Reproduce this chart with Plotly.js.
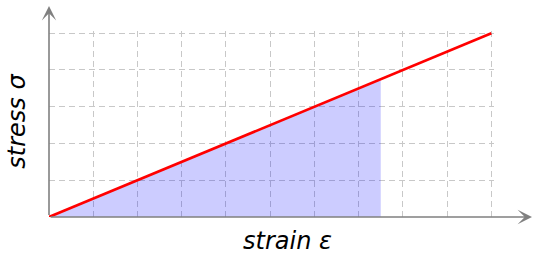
<!DOCTYPE html>
<html>
<head>
<meta charset="utf-8">
<script src="https://cdn.plot.ly/plotly-3.0.1.min.js"></script>
<style>html,body{margin:0;padding:0;background:#fff;}#chart{width:533px;height:259px;}</style>
</head>
<body>
<div id="chart"></div>
<script>
// Data
const strain = [0, 10];          // line end points (x)
const stress = [0, 5];           // line end points (y)
const areaStrain = [0, 7.5];     // shaded area x extent
const areaStress = [0, 3.75];    // line value at those x
const xLabel = 'strain ε';
const yLabel = 'stress σ';

const axisColor = '#808080';
const font = {family: 'DejaVu Sans', size: 24, color: '#000', style: 'italic'};

const traces = [
  {
    x: areaStrain, y: areaStress, type: 'scatter', mode: 'none',
    fill: 'tozeroy', fillcolor: 'rgba(0,0,255,0.2)', hoverinfo: 'skip'
  },
  {
    x: strain, y: stress, type: 'scatter', mode: 'lines',
    line: {color: '#ff0000', width: 2.6}, cliponaxis: false
  }
];

const gridAxis = {
  dtick: 1, tick0: 0, showgrid: true,
  gridcolor: '#c8c8c8', gridwidth: 1, griddash: '6px,4px',
  zeroline: false, showline: false, ticks: '', showticklabels: false, fixedrange: true
};

// plot area sized so 1 unit = 44.22 px in x and 36.68 px in y
const L = 49, B = 42, W = 444.9, H = 185.6;
const layout = {
  width: 533, height: 259,
  margin: {l: L, r: 533 - L - W, t: 259 - B - H, b: B},
  paper_bgcolor: '#fff', plot_bgcolor: '#fff',
  showlegend: false,
  xaxis: Object.assign({}, gridAxis, {range: [0, 10.06]}),
  yaxis: Object.assign({}, gridAxis, {range: [0, 5.06]}),
  annotations: [
    { // x axis with arrow
      xref: 'paper', yref: 'paper', x: (533 - L) / W, y: 0, axref: 'pixel', ayref: 'pixel',
      ax: -484, ay: 0, showarrow: true, arrowhead: 3, arrowsize: 1.5, arrowwidth: 1.6,
      arrowcolor: axisColor, text: ''
    },
    { // y axis with arrow
      xref: 'paper', yref: 'paper', x: 0, y: (217 - 6.5) / H, axref: 'pixel', ayref: 'pixel',
      ax: 0, ay: 210.5, showarrow: true, arrowhead: 3, arrowsize: 1.5, arrowwidth: 1.6,
      arrowcolor: axisColor, text: ''
    },
    {
      xref: 'paper', yref: 'paper', x: (287.5 - L) / W, y: (217 - 257) / H,
      xanchor: 'center', yanchor: 'bottom', showarrow: false, text: xLabel, font: font
    },
    {
      xref: 'paper', yref: 'paper', x: (17 - L) / W, y: (217 - 121) / H,
      xanchor: 'center', yanchor: 'middle', showarrow: false, text: yLabel, font: font, textangle: -90
    }
  ]
};

Plotly.newPlot('chart', traces, layout, {displayModeBar: false, staticPlot: true});
</script>
</body>
</html>
